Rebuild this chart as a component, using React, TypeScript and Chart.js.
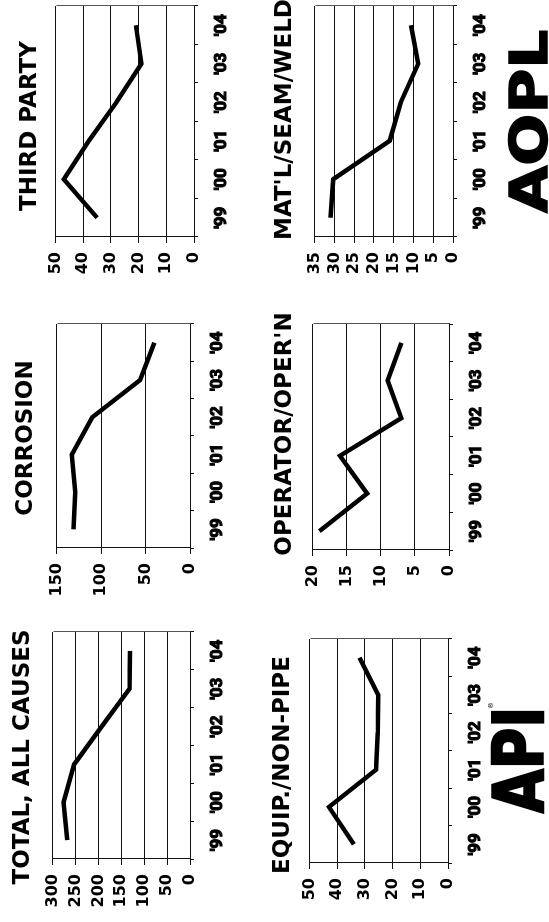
import React, { useEffect, useRef } from "react";
import { Chart, registerables } from "chart.js";

Chart.register(...registerables);

// ---- data ----
const YEARS = ["'99", "'00", "'01", "'02", "'03", "'04"];
const TOTAL_ALL_CAUSES = [268, 276, 253, 193, 132, 131];
const CORROSION = [131, 129, 133, 110, 56, 40];
const THIRD_PARTY = [35, 47, 38, 28, 19, 21];
const EQUIP_NON_PIPE = [34, 43, 26, 25.4, 25.2, 32];
const OPERATOR_OPERN = [19, 12, 16, 7, 9, 7];
const MATL_SEAM_WELD = [31, 30.3, 16, 13.2, 8.8, 10.6];

const TITLES = [
  "TOTAL, ALL CAUSES",
  "CORROSION",
  "THIRD PARTY",
  "EQUIP./NON-PIPE",
  "OPERATOR/OPER'N",
  "MAT'L/SEAM/WELD",
];
const Y_MAX = [300, 150, 50, 50, 20, 35];
const Y_STEP = [50, 50, 10, 10, 5, 5];
const SERIES = [
  TOTAL_ALL_CAUSES,
  CORROSION,
  THIRD_PARTY,
  EQUIP_NON_PIPE,
  OPERATOR_OPERN,
  MATL_SEAM_WELD,
];

// ---- layout (landscape frame, later rotated) ----
const FRAME_W = 922;
const FRAME_H = 549;
const AXIS_W = 56;
const AXIS_H = 46;
const PAD_T = 12;
const PAD_R = 12;

type Rect = { L: number; R: number; T: number; B: number };
const PLOTS: Rect[] = [
  { L: 63, R: 290, T: 46, B: 190 },
  { L: 374, R: 598, T: 50, B: 190 },
  { L: 685, R: 916, T: 49, B: 194 },
  { L: 59, R: 283, T: 303, B: 448 },
  { L: 372, R: 598, T: 306, B: 449 },
  { L: 685, R: 916, T: 308, B: 453 },
];
// title placement: [centerX or leftX, topY, align]
const TITLE_POS: [number, number, "center" | "left"][] = [
  [165, 10, "center"],
  [484, 13, "center"],
  [796, 17, "center"],
  [157, 270, "center"],
  [488, 272, "center"],
  [682, 272, "left"],
];

const framePlugin = {
  id: "frameBox",
  beforeDatasetsDraw(chart: any) {
    const { ctx, chartArea } = chart;
    ctx.save();
    ctx.strokeStyle = "#555";
    ctx.lineWidth = 1;
    ctx.beginPath();
    const r = Math.round(chartArea.right) + 0.5;
    ctx.moveTo(r, Math.round(chartArea.top) + 0.5);
    ctx.lineTo(r, Math.round(chartArea.bottom) + 0.5);
    ctx.stroke();
    ctx.restore();
  },
};

function MiniChart({ idx }: { idx: number }) {
  const ref = useRef<HTMLCanvasElement>(null);
  const p = PLOTS[idx];
  const left = p.L - AXIS_W;
  const top = p.T - PAD_T;
  const width = AXIS_W + (p.R - p.L) + PAD_R;
  const height = PAD_T + (p.B - p.T) + AXIS_H;

  useEffect(() => {
    if (!ref.current) return;
    const chart = new Chart(ref.current, {
      type: "line",
      data: {
        labels: YEARS,
        datasets: [
          {
            data: SERIES[idx],
            borderColor: "#000",
            borderWidth: 4.5,
            pointRadius: 0,
            tension: 0,
            fill: false,
            borderJoinStyle: "miter",
            borderCapStyle: "butt",
          },
        ],
      },
      options: {
        animation: false,
        responsive: false,
        maintainAspectRatio: false,
        layout: { padding: { top: PAD_T, right: PAD_R, left: 0, bottom: 0 } },
        plugins: {
          legend: { display: false },
          tooltip: { enabled: false },
          title: { display: false },
        },
        scales: {
          x: {
            type: "category",
            offset: true,
            grid: {
              display: true,
              offset: true,
              drawOnChartArea: false,
              drawTicks: true,
              tickLength: 4,
              color: "#111",
              lineWidth: 1,
            },
            border: { display: true, color: "#111", width: 1 },
            ticks: {
              color: "#000",
              font: { family: "Roboto, 'DejaVu Sans', sans-serif", weight: "bold", size: 17 },
              textStrokeColor: "#000",
              textStrokeWidth: 1.1,
              padding: 14,
              maxRotation: 0,
              minRotation: 0,
              autoSkip: false,
            },
            afterFit: (s: any) => {
              s.height = AXIS_H;
            },
          },
          y: {
            min: 0,
            max: Y_MAX[idx],
            ticks: {
              stepSize: Y_STEP[idx],
              autoSkip: false,
              color: "#000",
              font: { family: "'DejaVu Sans', sans-serif", weight: "bold", size: 16 },
              padding: 9,
            },
            grid: { color: "#111", lineWidth: 1, tickLength: 6, drawTicks: true },
            border: { display: true, color: "#111", width: 1 },
            afterFit: (s: any) => {
              s.width = AXIS_W;
            },
          },
        },
      },
      plugins: [framePlugin],
    } as any);
    return () => chart.destroy();
  }, [idx]);

  return (
    <canvas
      ref={ref}
      width={width}
      height={height}
      style={{ position: "absolute", left, top, width, height }}
    />
  );
}

export default function App() {
  return (
    <div
      style={{
        position: "fixed",
        left: 0,
        top: 0,
        width: FRAME_W,
        height: FRAME_H,
        background: "#fff",
        overflow: "hidden",
        transformOrigin: "0 0",
        transform: `translate(0px, ${FRAME_W}px) rotate(-90deg)`,
      }}
    >
      {TITLES.map((t, i) => {
        const [x, y, align] = TITLE_POS[i];
        const style: React.CSSProperties = {
          position: "absolute",
          top: y,
          fontFamily: "'DejaVu Sans', sans-serif",
          fontWeight: "bold",
          fontSize: 23,
          lineHeight: "23px",
          whiteSpace: "nowrap",
          color: "#000",
        };
        if (align === "center") {
          style.left = x - 200;
          style.width = 400;
          style.textAlign = "center";
        } else {
          style.left = x;
        }
        return (
          <div key={t} style={style}>
            {t}
          </div>
        );
      })}
      {PLOTS.map((_, i) => (
        <MiniChart key={i} idx={i} />
      ))}
      <div
        style={{
          position: "absolute",
          left: 109,
          top: 485,
          fontFamily: "'DejaVu Sans', sans-serif",
          fontWeight: "bold",
          fontSize: 69,
          lineHeight: "69px",
          whiteSpace: "nowrap",
          color: "#000",
          transformOrigin: "0 0",
          transform: "scaleX(0.82)",
          WebkitTextStroke: "2.5px #000",
        }}
      >
        API
      </div>
      <div
        style={{
          position: "absolute",
          left: 213,
          top: 488,
          fontFamily: "'DejaVu Sans', sans-serif",
          fontSize: 7,
          lineHeight: "7px",
          color: "#000",
        }}
      >
        ®
      </div>
      <div
        style={{
          position: "absolute",
          left: 709,
          top: 504,
          fontFamily: "'DejaVu Sans', sans-serif",
          fontWeight: "bold",
          fontSize: 51,
          lineHeight: "51px",
          whiteSpace: "nowrap",
          color: "#000",
          transformOrigin: "0 0",
          transform: "scaleX(1.2)",
          WebkitTextStroke: "1.5px #000",
        }}
      >
        AOPL
      </div>
    </div>
  );
}
